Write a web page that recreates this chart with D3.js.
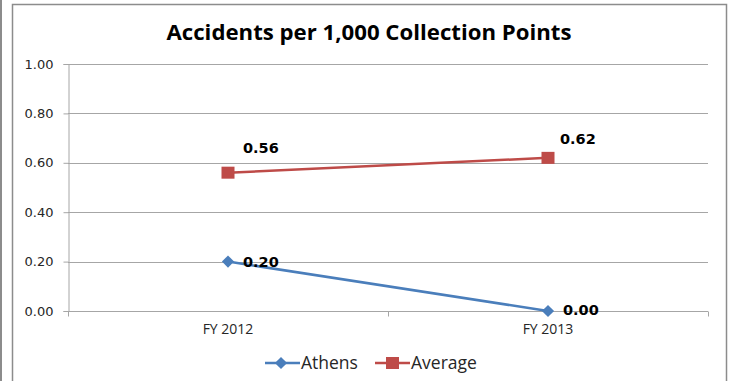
<!DOCTYPE html>
<html><head><meta charset="utf-8">
<script src="https://cdn.jsdelivr.net/npm/d3@7"></script>
<style>body{margin:0;background:#fff;}svg{display:block;}</style>
</head><body>
<svg id="c" width="731" height="381"></svg>
<script>
const categories = ["FY 2012", "FY 2013"];
const athens = [0.20, 0.00];
const average = [0.56, 0.62];
const yTicks = [0, 0.2, 0.4, 0.6, 0.8, 1.0];
const seriesNames = ["Athens", "Average"];

const svg = d3.select("#c");
const fontH = "'Open Sans', sans-serif";
const fontT = "'DejaVu Sans', sans-serif";
// outer frame
svg.append("rect").attr("x",0).attr("y",0).attr("width",2).attr("height",381).attr("fill","#8c8c8c");
svg.append("rect").attr("x",12.5).attr("y",4.5).attr("width",714).attr("height",400)
  .attr("fill","#fff").attr("stroke","#8c8c8c").attr("stroke-width",1.5);

const m = {l:68, r:708, t:64, b:311};
const x = d3.scaleBand().domain(categories).range([m.l, m.r]);
const y = d3.scaleLinear().domain([0,1]).range([m.b, m.t]);

// gridlines
svg.append("g").selectAll("line").data(yTicks).join("line")
  .attr("x1", m.l).attr("x2", m.r)
  .attr("y1", d=>Math.round(y(d))+0.5).attr("y2", d=>Math.round(y(d))+0.5)
  .attr("stroke","#a6a6a6").attr("stroke-width",1);

// y axis
const ya = svg.append("g").attr("transform",`translate(${m.l+0.5},0)`)
  .call(d3.axisLeft(y).tickValues(yTicks).tickFormat(d3.format(".2f")).tickSize(5).tickPadding(10));
ya.select(".domain").attr("stroke","#a6a6a6");
ya.selectAll(".tick line").attr("stroke","#a6a6a6");
ya.selectAll("text").attr("font-family",fontT).attr("font-size",13).attr("fill","#262626");

// x axis
const xa = svg.append("g").attr("transform",`translate(0,${Math.round(y(0))+0.5})`)
  .call(d3.axisBottom(x).tickSize(0).tickPadding(13));
xa.select(".domain").remove();
xa.selectAll("text").attr("font-family",fontH).attr("font-size",14).attr("fill","#262626");
svg.append("g").selectAll("line").data([m.l, m.l + x.step(), m.r]).join("line")
  .attr("x1",d=>d+0.5).attr("x2",d=>d+0.5)
  .attr("y1", Math.round(y(0))+0.5).attr("y2", Math.round(y(0))+5.5)
  .attr("stroke","#a6a6a6");

const cx = c => x(c) + x.bandwidth()/2;
const line = d3.line().x((d,i)=>cx(categories[i])).y(d=>y(d));
const blue = "#4a7ebb", red = "#be4b48";

svg.append("path").datum(athens).attr("d",line).attr("fill","none").attr("stroke",blue).attr("stroke-width",2.5);
svg.append("path").datum(average).attr("d",line).attr("fill","none").attr("stroke",red).attr("stroke-width",2.5);

const diamond = d3.symbol().type(d3.symbolSquare).size(74);
svg.append("g").selectAll("path").data(athens).join("path")
  .attr("d", diamond).attr("transform",(d,i)=>`translate(${cx(categories[i])},${y(d)}) rotate(45)`).attr("fill",blue);
svg.append("g").selectAll("rect").data(average).join("rect")
  .attr("x",(d,i)=>cx(categories[i])-6.5).attr("y",d=>y(d)-6).attr("width",13).attr("height",12).attr("fill",red);

// data labels (offsets follow the reference's label placement)
const athensOff = [[15,5],[15,4]];
const averageOff = [[15,-20],[12,-14]];
const lbl = (vals, off) => svg.append("g").selectAll("text").data(vals).join("text")
  .attr("x",(d,i)=>cx(categories[i])+off[i][0]).attr("y",(d,i)=>y(d)+off[i][1])
  .attr("font-family",fontT).attr("font-weight","bold").attr("font-size",14.5).attr("fill","#000")
  .text(d=>d3.format(".2f")(d));
lbl(athens, athensOff);
lbl(average, averageOff);

// title
svg.append("text").attr("x",369).attr("y",40).attr("text-anchor","middle")
  .attr("font-family",fontH).attr("font-weight","bold").attr("font-size",22.2).attr("fill","#000")
  .text("Accidents per 1,000 Collection Points");

// legend
const lg = svg.append("g");
const items = [{n:seriesNames[0], c:blue, x0:265, t:"d"}, {n:seriesNames[1], c:red, x0:375, t:"s"}];
items.forEach(it=>{
  lg.append("line").attr("x1",it.x0).attr("x2",it.x0+35).attr("y1",363).attr("y2",363).attr("stroke",it.c).attr("stroke-width",2.5);
  if(it.t==="d") lg.append("path").attr("d",diamond).attr("transform",`translate(${it.x0+16},363) rotate(45)`).attr("fill",it.c);
  else lg.append("rect").attr("x",it.x0+11).attr("y",357).attr("width",13).attr("height",12).attr("fill",it.c);
  lg.append("text").attr("x",it.x0+36).attr("y",369).attr("font-family",fontH).attr("font-size",17.5).attr("fill","#262626").text(it.n);
});
</script>
</body></html>
